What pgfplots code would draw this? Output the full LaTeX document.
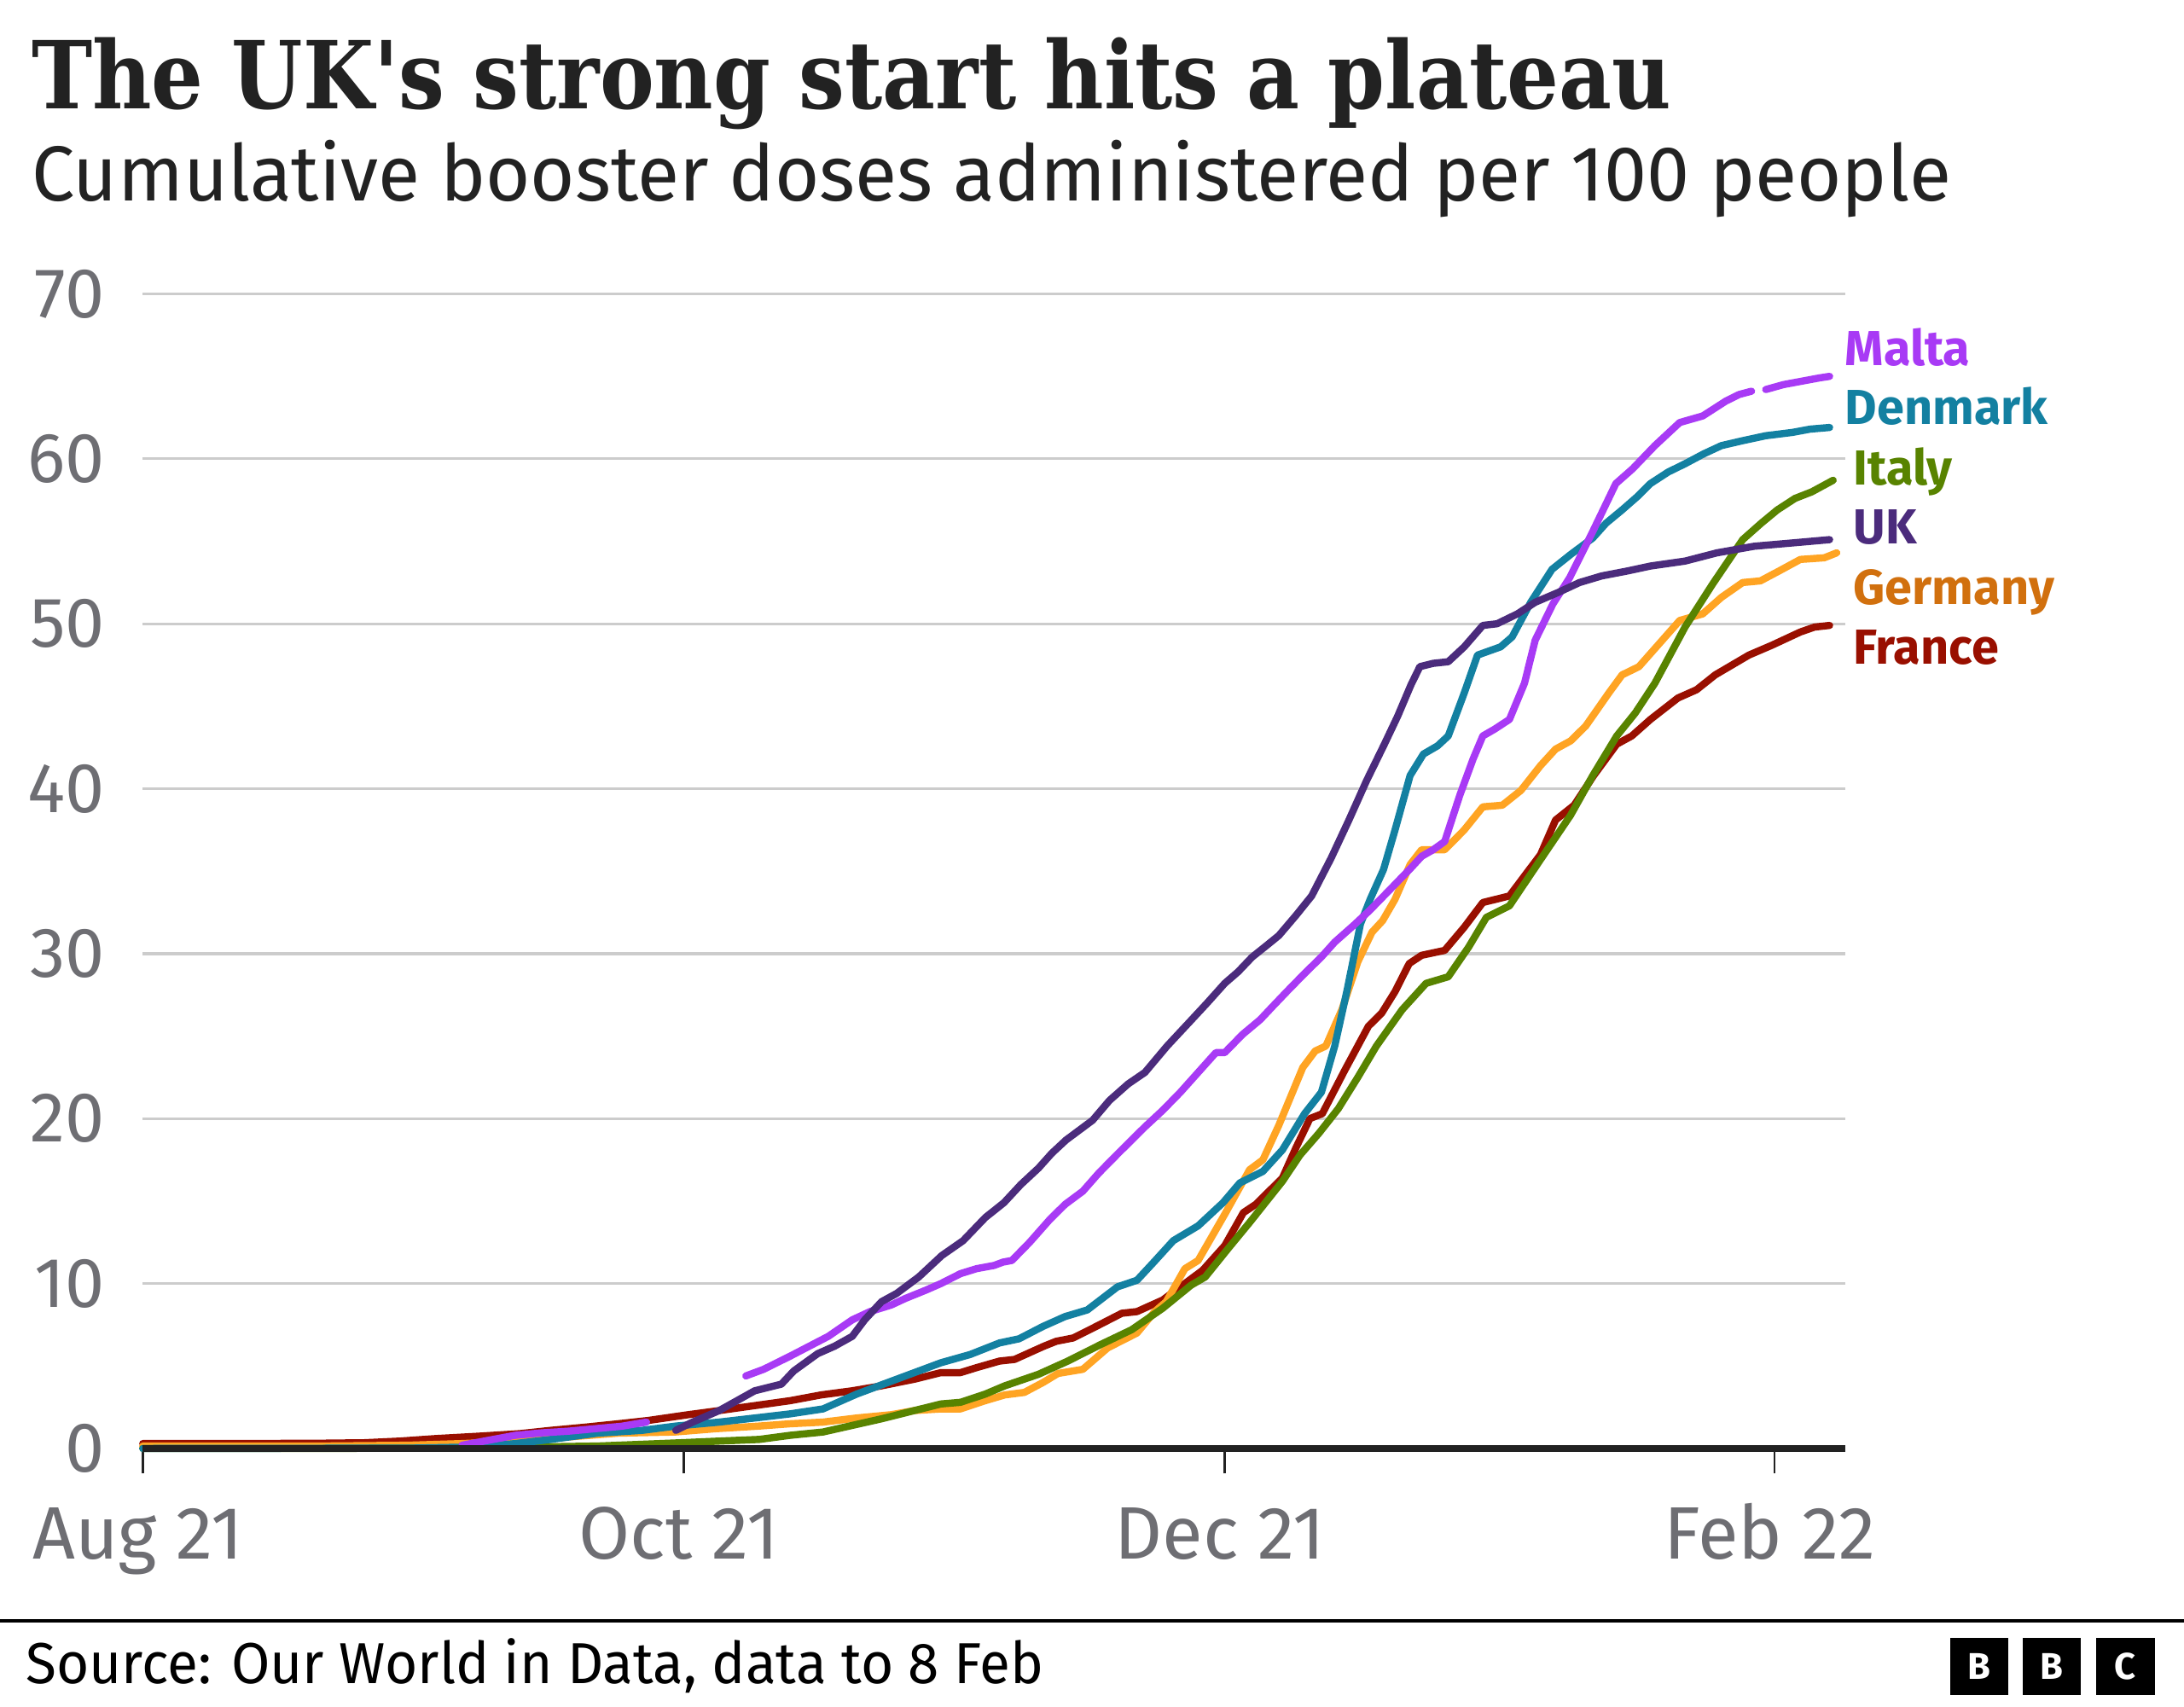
\documentclass[border=0pt]{standalone}
\usepackage{pgfplots}
\pgfplotsset{compat=1.18}
\usepackage{fontspec}
\setmainfont{Fira Sans}
\newfontfamily\titlefont[FakeStretch=0.87]{DejaVu Serif}
\newfontfamily\subfont[FakeStretch=0.982]{Fira Sans}
\newfontfamily\srcfont[FakeStretch=0.97]{Fira Sans}
\definecolor{malta}{HTML}{A83AF5}
\definecolor{denmark}{HTML}{1380A1}
\definecolor{italy}{HTML}{588300}
\definecolor{uk}{HTML}{4B2B7C}
\definecolor{germany}{HTML}{FFA423}
\definecolor{germanylab}{HTML}{D1700E}
\definecolor{france}{HTML}{990F00}
\definecolor{tickgray}{HTML}{6E6E73}
\definecolor{ink}{HTML}{222222}
\definecolor{gridgray}{HTML}{CCCCCC}
\begin{document}
\begin{tikzpicture}
\path[use as bounding box] (0,0) rectangle (470.4pt,367.5pt);
\begin{axis}[
  at={(30.75pt,55.5pt)}, anchor=south west,
  scale only axis, width=366.75pt, height=248.7pt,
  xmin=0, xmax=192, ymin=0, ymax=70,
  clip=false,
  axis line style={draw=none},
  xtick={0,61,122,184},
  xticklabels={Aug 21, Oct 21, Dec 21, Feb 22},
  ytick={0,10,20,30,40,50,60,70},
  ymajorgrids, grid style={gridgray, line width=0.6pt},
  tick align=outside, major tick length=5.4pt,
  xtick pos=bottom, ytick pos=left,
  xtick style={draw=ink, line width=0.45pt},
  ytick style={draw=none},
  tick label style={font=\fontsize{15.2}{16}\selectfont, text=tickgray},
  /pgf/number format/assume math mode=true,
  xticklabel style={anchor=base, inner sep=0pt, yshift=-18.4pt, xshift=-1pt, font=\fontsize{16}{17}\selectfont},
  yticklabel style={anchor=east, inner sep=0pt, xshift=-2.6pt},
  every axis plot/.append style={line width=1.55pt, line join=round, line cap=round, no marks},
]
% France
\addplot[france] coordinates {
(0,0.3)(10,0.3)(20,0.32)(25,0.35)(29,0.45)(33,0.6)(38,0.75)(42.5,0.9)(46,1.1)(50,1.3)(53.6,1.5)(57,1.7)(61.5,2.05)(65,2.3)(69,2.6)(73,2.9)(76.5,3.25)(80,3.5)(83.3,3.8)(87,4.2)(90,4.6)(92.2,4.6)(94,4.9)(96.6,5.3)(98.3,5.4)(101.6,6.2)(103,6.5)(104.9,6.7)(107.5,7.4)(110.4,8.2)(112.1,8.3)(115,9.0)(118.5,10.4)(119.5,10.8)(122,12.3)(124.1,14.3)(125.5,14.8)(128.5,16.4)(130,18.2)(131.6,20.0)(133,20.3)(135.5,22.9)(138.2,25.6)(139.7,26.4)(141.2,27.7)(142.8,29.4)(144.2,29.9)(146.8,30.2)(149,31.6)(151.1,33.1)(154.1,33.5)(157.6,36.0)(159.3,38.1)(161.4,39.0)(163.6,40.8)(166.2,42.7)(167.9,43.2)(170,44.2)(173.1,45.5)(175.2,46.0)(177.3,46.9)(181.1,48.1)(183.7,48.7)(186.9,49.5)(188.5,49.8)(190.2,49.9)};
% Germany
\addplot[germany] coordinates {
(0,0.15)(20,0.15)(30,0.2)(36,0.3)(42.5,0.45)(48,0.7)(53.6,0.93)(60,1.0)(64.6,1.2)(69.5,1.36)(73,1.5)(76.7,1.6)(80.5,1.85)(84.4,2.05)(87,2.3)(90,2.4)(92.2,2.4)(95,2.9)(97.2,3.25)(99.4,3.4)(101.5,4.0)(103.2,4.55)(106,4.8)(108.8,6.1)(112.1,7.0)(114.1,8.3)(115.4,8.9)(117.5,10.9)(119,11.4)(120.5,12.8)(122,14.2)(124.8,16.9)(126.3,17.5)(128.1,19.6)(130.8,23.1)(132.2,24.1)(133.4,24.4)(135.2,26.6)(137,29.5)(138.6,31.3)(139.8,32.0)(141.2,33.3)(142.9,35.4)(144.2,36.3)(146.8,36.3)(149,37.5)(151.1,38.9)(153.3,39.0)(155.4,39.9)(157.6,41.4)(159.3,42.4)(161,42.9)(162.7,43.8)(165.3,45.8)(166.8,46.9)(168.7,47.4)(171,48.8)(173.3,50.2)(175.9,50.6)(178,51.6)(180.4,52.5)(182.4,52.6)(184.5,53.2)(186.9,53.9)(189.6,54.0)(191,54.3)};
% Italy
\addplot[italy] coordinates {
(0,0)(20,0)(40,0.05)(45,0.1)(51.3,0.15)(56,0.25)(60.7,0.35)(65,0.45)(69.5,0.55)(73,0.8)(76.7,1.0)(80,1.4)(83.3,1.8)(87,2.3)(90,2.7)(92.2,2.8)(95,3.3)(97.2,3.8)(101,4.5)(104.3,5.3)(108,6.3)(111.5,7.2)(115,8.5)(118.2,9.9)(119.8,10.4)(122.5,12.2)(124.8,13.7)(128.5,16.2)(130.5,17.8)(132.6,19.1)(134.8,20.6)(137,22.5)(139.1,24.4)(142,26.6)(144.7,28.2)(147.2,28.6)(149.5,30.4)(151.5,32.2)(154.1,32.9)(157.6,35.7)(161,38.4)(163.5,40.8)(166.2,43.2)(168.3,44.6)(170.5,46.4)(173.9,49.8)(177,52.4)(180.4,55.1)(182.5,56.1)(184.3,56.9)(186.3,57.6)(188.2,58.0)(190.6,58.7)};
% Denmark
\addplot[denmark] coordinates {
(0,0)(30,0.02)(38,0.1)(42,0.3)(46,0.55)(51.3,0.93)(56.3,1.1)(60.1,1.36)(65,1.6)(69.5,1.88)(73,2.1)(76.7,2.4)(80.5,3.3)(85,4.2)(88,4.8)(90,5.2)(93.3,5.7)(96.6,6.4)(98.8,6.65)(101.5,7.4)(104,8.0)(106.5,8.4)(109.9,9.8)(112.1,10.2)(114,11.3)(116.2,12.6)(119,13.5)(121.8,14.9)(123.7,16.1)(126.3,16.8)(128.5,18.1)(131,20.3)(132.9,21.6)(134.4,24.4)(135.8,27.8)(137.3,31.8)(138.4,33.3)(139.9,35.1)(141.2,37.5)(142.9,40.8)(144.4,42.1)(146,42.6)(147.2,43.2)(149,45.8)(150.5,48.1)(153.1,48.6)(154.4,49.2)(156.5,51.3)(158.9,53.3)(161,54.2)(163.5,55.2)(165,56.1)(166.8,56.9)(168.5,57.7)(170,58.5)(172,59.2)(173.9,59.7)(176,60.3)(178,60.8)(180.4,61.1)(183,61.4)(186,61.6)(188,61.8)(190.2,61.9)};
% Malta (three segments, gaps in data)
\addplot[malta] coordinates {
(36,0.2)(39,0.5)(42,0.8)(45,0.95)(48,1.05)(51,1.2)(54,1.35)(56.8,1.6)};
\addplot[malta] coordinates {
(68,4.4)(70,4.8)(73,5.6)(77.3,6.8)(80,7.8)(82,8.3)(84.4,8.7)(86,9.1)(88.3,9.6)(90,10.0)(92.2,10.6)(94,10.9)(96,11.1)(97,11.3)(98,11.4)(100,12.5)(102.3,13.9)(104,14.8)(106,15.6)(107.8,16.7)(110,17.9)(113,19.5)(115,20.5)(117,21.6)(119,22.8)(121,24.0)(122,24.0)(124,25.1)(126,26.0)(127.4,26.8)(129,27.7)(131,28.8)(132.9,29.8)(134.4,30.7)(136.5,31.7)(138.3,32.6)(141.2,34.2)(143,35.2)(144.2,35.9)(145.5,36.3)(146.8,36.8)(148.5,39.6)(150,41.8)(151.1,43.2)(152.4,43.6)(154.1,44.2)(155.8,46.4)(157,49.0)(159,51.2)(160.9,52.8)(163.5,55.6)(166.1,58.5)(168,59.4)(170.5,60.8)(173.3,62.2)(175.9,62.6)(178.5,63.5)(180,63.9)(181.4,64.1)};
\addplot[malta] coordinates {
(183,64.2)(185,64.5)(187,64.7)(189,64.9)(190.2,65.0)};
% UK
\addplot[uk] coordinates {
(60.1,1.1)(62,1.6)(65,2.3)(69,3.5)(72,3.9)(73.4,4.7)(76.1,5.75)(78,6.2)(80,6.8)(81.4,7.8)(83.3,8.9)(85,9.4)(87.5,10.4)(90.1,11.7)(92.5,12.6)(95,14.0)(97.1,14.9)(99,16.0)(101,17.0)(102.5,17.9)(104.1,18.7)(107.1,19.9)(109,21.1)(111.1,22.1)(113,22.8)(115.5,24.4)(118.1,25.9)(120,27.0)(122,28.2)(123.5,28.9)(125.1,29.8)(126.5,30.4)(128.1,31.1)(130,32.3)(131.8,33.5)(134,35.8)(136,38.1)(138,40.5)(140,42.7)(141.5,44.4)(143,46.3)(144,47.4)(145.5,47.6)(147.2,47.7)(149,48.6)(151.1,49.9)(152.7,50.0)(155,50.6)(157,51.3)(159.6,51.9)(162,52.5)(164.5,52.9)(167.4,53.2)(170,53.5)(173.9,53.8)(177.5,54.3)(181.7,54.7)(186,54.9)(190.2,55.1)};
% baseline
\addplot[ink, line width=1.35pt, line cap=butt] coordinates {(0,0)(192,0)};
\end{axis}
% title and subtitle
\node[anchor=base west, inner sep=0pt, text=ink, font=\titlefont\bfseries\fontsize{20.2}{22}\selectfont] at (6.6pt,344.0pt) {The UK's strong start hits a plateau};
\node[anchor=base west, inner sep=0pt, text=ink, font=\subfont\fontsize{16.8}{18}\selectfont] at (6.6pt,324.3pt) {Cumulative booster doses administered per 100 people};
% series labels
\begin{scope}[every node/.style={anchor=base west, inner sep=0pt, font=\bfseries\fontsize{10.6}{12}\selectfont}]
\node[text=malta] at (397.2pt,288.7pt) {Malta};
\node[text=denmark] at (397.2pt,276.1pt) {Denmark};
\node[text=italy] at (399.0pt,263.1pt) {Italy};
\node[text=uk] at (399.0pt,250.4pt) {UK};
\node[text=germanylab] at (399.0pt,237.4pt) {Germany};
\node[text=france] at (399.0pt,224.5pt) {France};
\end{scope}
% footer
\draw[black, line width=0.75pt] (0,18.3pt) -- (470.4pt,18.3pt);
\node[anchor=base west, inner sep=0pt, text=black, font=\srcfont\fontsize{12.45}{14}\selectfont] at (5.4pt,4.95pt) {Source: Our World in Data, data to 8 Feb};
\foreach \x/\l in {420/B,435.6/B,451.5/C} {
  \fill[black] (\x pt,2.4pt) rectangle ++(12.6pt,12.3pt);
  \node[text=white, inner sep=0pt, font=\bfseries\fontsize{8}{8}\selectfont] at (\x pt+6.3pt,8.55pt) {\l};
}
\end{tikzpicture}
\end{document}
